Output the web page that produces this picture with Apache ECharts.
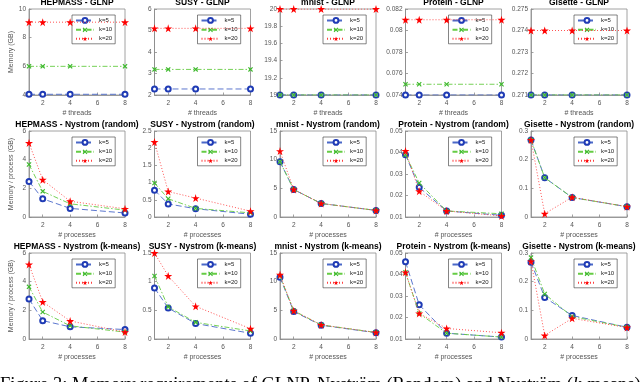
<!DOCTYPE html>
<html>
<head>
<meta charset="utf-8">
<script src="https://cdn.jsdelivr.net/npm/echarts@6/dist/echarts.min.js"></script>
<style>
html, body { margin: 0; background: #fff; }
#chart { width: 640px; height: 382px; }
</style>
</head>
<body>
<div id="chart"></div>
<script>
// x positions (threads / processes) and tick labels
var xValues = [1, 2, 4, 8];
var xTicks = [2, 4, 6, 8];
var datasetNames = ['HEPMASS', 'SUSY', 'mnist', 'Protein', 'Gisette'];
var methodNames = ['GLNP', 'Nystrom (random)', 'Nystrom (k-means)'];
var seriesNames = ['k=5', 'k=10', 'k=20'];

// GLNP memory (GB) per thread count: [k=5, k=10, k=20]
var hepmassGlnp = [[4.05, 4.05, 4.05, 4.05], [6, 6, 6, 6], [9.08, 9.08, 9.08, 9.08]];
var susyGlnp = [[2.28, 2.28, 2.28, 2.28], [3.19, 3.19, 3.19, 3.19], [5.1, 5.1, 5.1, 5.1]];
var mnistGlnp = [[19, 19, 19, 19], [19, 19, 19, 19], [20, 20, 20, 20]];
var proteinGlnp = [[0.074, 0.074, 0.074, 0.074], [0.075, 0.075, 0.075, 0.075], [0.081, 0.081, 0.081, 0.081]];
var gisetteGlnp = [[0.271, 0.271, 0.271, 0.271], [0.271, 0.271, 0.271, 0.271], [0.274, 0.274, 0.274, 0.274]];

// Nystrom (random) memory / process (GB)
var hepmassRandom = [[2.48, 1.27, 0.6, 0.28], [3.66, 1.79, 0.92, 0.48], [5.17, 2.6, 1.1, 0.57]];
var susyRandom = [[0.78, 0.38, 0.24, 0.08], [0.99, 0.53, 0.25, 0.12], [2.18, 0.74, 0.55, 0.17]];
var mnistRandom = [[9.65, 4.8, 2.36, 1.15], [9.65, 4.8, 2.36, 1.15], [11.5, 4.8, 2.36, 1.15]];
var proteinRandom = [[0.039, 0.0238, 0.0128, 0.0108], [0.039, 0.0258, 0.0128, 0.0115], [0.0407, 0.022, 0.0128, 0.0105]];
var gisetteRandom = [[0.269, 0.137, 0.068, 0.036], [0.269, 0.137, 0.068, 0.036], [0.269, 0.0115, 0.069, 0.036]];

// Nystrom (k-means) memory / process (GB)
var hepmassKmeans = [[2.79, 1.28, 0.85, 0.66], [3.64, 1.88, 0.92, 0.48], [5.2, 2.59, 1.26, 0.48]];
var susyKmeans = [[0.89, 0.54, 0.27, 0.1], [1.1, 0.56, 0.29, 0.14], [1.5, 1.1, 0.57, 0.18]];
var mnistKmeans = [[10.76, 4.8, 2.4, 1.09], [11, 4.92, 2.46, 1.14], [11.2, 4.92, 2.46, 1.14]];
var proteinKmeans = [[0.0459, 0.0259, 0.0127, 0.0109], [0.041, 0.0219, 0.0127, 0.0109], [0.041, 0.0219, 0.0149, 0.0129]];
var gisetteKmeans = [[0.268, 0.145, 0.082, 0.041], [0.284, 0.157, 0.078, 0.041], [0.271, 0.0126, 0.072, 0.04]];

var panelValues = [
	[hepmassGlnp, susyGlnp, mnistGlnp, proteinGlnp, gisetteGlnp],
	[hepmassRandom, susyRandom, mnistRandom, proteinRandom, gisetteRandom],
	[hepmassKmeans, susyKmeans, mnistKmeans, proteinKmeans, gisetteKmeans]
];

// y axis ranges per row
var yMins = [[4, 2, 19, 0.074, 0.271], [0, 0, 0, 0.01, 0], [0, 0, 0, 0.01, 0]];
var yMaxs = [[10, 6, 20, 0.082, 0.275], [6, 2.5, 15, 0.05, 0.3], [6, 1.5, 15, 0.05, 0.3]];
var ySteps = [[2, 1, 0.2, 0.002, 0.001], [2, 0.5, 5, 0.01, 0.1], [2, 0.5, 5, 0.01, 0.1]];

var xNames = ['# threads', '# processes', '# processes'];
var yNames = ['Memory (GB)', 'Memory / process (GB)', 'Memory / process (GB)'];

// layout
var lefts = [29, 154.5, 280, 405.5, 531];
var tops = [9, 131, 253];
var W = 96, H = 86;
var FONT = '"Liberation Sans", Arial, sans-serif';

var lineColors = ['#4a68c8', '#66cc44', '#ff4040'];
var markColors = ['#1f3bb5', '#3cb82c', '#ff0000'];
var dashes = [[6, 3], [5, 2, 1.5, 2], [1, 2]];
var crossPath = 'path://M0,1.6L1.6,0L5,3.4L8.4,0L10,1.6L6.6,5L10,8.4L8.4,10L5,6.6L1.6,10L0,8.4L3.4,5Z';
var starPath = 'path://M50,0L61,35L98,35L68,57L79,91L50,70L21,91L32,57L2,35L39,35Z';
var symbols = ['emptyCircle', crossPath, starPath];
var symbolSizes = [5, 5, 8];

function fmt(v) { return String(+v.toFixed(4)); }

var grids = [], xAxes = [], yAxes = [], series = [], legends = [], texts = [];

for (var r = 0; r < 3; r++) {
	for (var c = 0; c < 5; c++) {
		var i = r * 5 + c;
		grids.push({
			left: lefts[c], top: tops[r], width: W, height: H,
			show: true, borderColor: '#8a8a8a', borderWidth: 0.8, backgroundColor: '#fff'
		});
		xAxes.push({
			type: 'value', gridIndex: i, min: 1, max: 8,
			name: xNames[r], nameLocation: 'middle', nameGap: 15,
			nameTextStyle: { fontSize: 7, color: '#555', fontFamily: FONT },
			axisLine: { lineStyle: { color: '#8a8a8a', width: 0.8 } },
			axisTick: { inside: true, length: 2.5, customValues: xTicks, lineStyle: { color: '#8a8a8a', width: 0.8 } },
			axisLabel: { customValues: xTicks, fontSize: 6.5, color: '#555', margin: 5, fontFamily: FONT },
			splitLine: { show: false }
		});
		yAxes.push({
			type: 'value', gridIndex: i,
			min: yMins[r][c], max: yMaxs[r][c], interval: ySteps[r][c],
			name: c === 0 ? yNames[r] : '', nameLocation: 'middle', nameGap: 14,
			nameTextStyle: { fontSize: 7, color: '#555', fontFamily: FONT },
			axisLine: { lineStyle: { color: '#8a8a8a', width: 0.8 } },
			axisTick: { inside: true, length: 2.5, lineStyle: { color: '#8a8a8a', width: 0.8 } },
			axisLabel: { fontSize: 6.5, color: '#555', margin: 3, fontFamily: FONT, formatter: fmt },
			splitLine: { show: false }
		});
		for (var k = 0; k < 3; k++) {
			var vals = panelValues[r][c][k];
			series.push({
				type: 'line', name: seriesNames[k], xAxisIndex: i, yAxisIndex: i,
				data: xValues.map(function (x, j) { return [x, vals[j]]; }),
				symbol: symbols[k], symbolSize: symbolSizes[k], showSymbol: true,
				lineStyle: { color: lineColors[k], width: 0.9, type: dashes[k] },
				itemStyle: { color: markColors[k], borderColor: markColors[k], borderWidth: k === 0 ? 1.3 : 0 },
				emphasis: { disabled: true },
				animation: false, z: 2 + k
			});
		}
		legends.push({
			left: lefts[c] + W - 53, top: tops[r] + 6,
			orient: 'vertical', data: seriesNames, selectedMode: false,
			itemWidth: 18, itemHeight: 6, itemGap: 3, padding: [2, 3, 2, 3],
			borderColor: '#333', borderWidth: 0.6, backgroundColor: '#fff',
			textStyle: { fontSize: 6, color: '#222', fontFamily: FONT }
		});
		texts.push({
			type: 'text', x: lefts[c] + W / 2, y: tops[r] - 6,
			style: {
				text: datasetNames[c] + ' - ' + methodNames[r],
				font: 'bold 8.5px ' + FONT, fill: '#000', align: 'center', verticalAlign: 'middle'
			}
		});
	}
}

texts.push({
	type: 'text', x: 0, y: 376,
	style: {
		text: 'Figure 3: Memory requirements of GLNP, Nyström (Random) and Nyström ({it|k}-means)',
		fontSize: 18.5, fontFamily: '"Liberation Serif", serif', fill: '#000', verticalAlign: 'top',
		rich: { it: { fontSize: 18.5, fontFamily: '"Liberation Serif", serif', fontStyle: 'italic' } }
	}
});

var myChart = echarts.init(document.getElementById('chart'));
myChart.setOption({
	backgroundColor: '#fff',
	animation: false,
	grid: grids,
	xAxis: xAxes,
	yAxis: yAxes,
	legend: legends,
	series: series,
	graphic: texts
});
window.addEventListener('resize', function () {
	myChart.resize();
});
</script>
</body>
</html>
